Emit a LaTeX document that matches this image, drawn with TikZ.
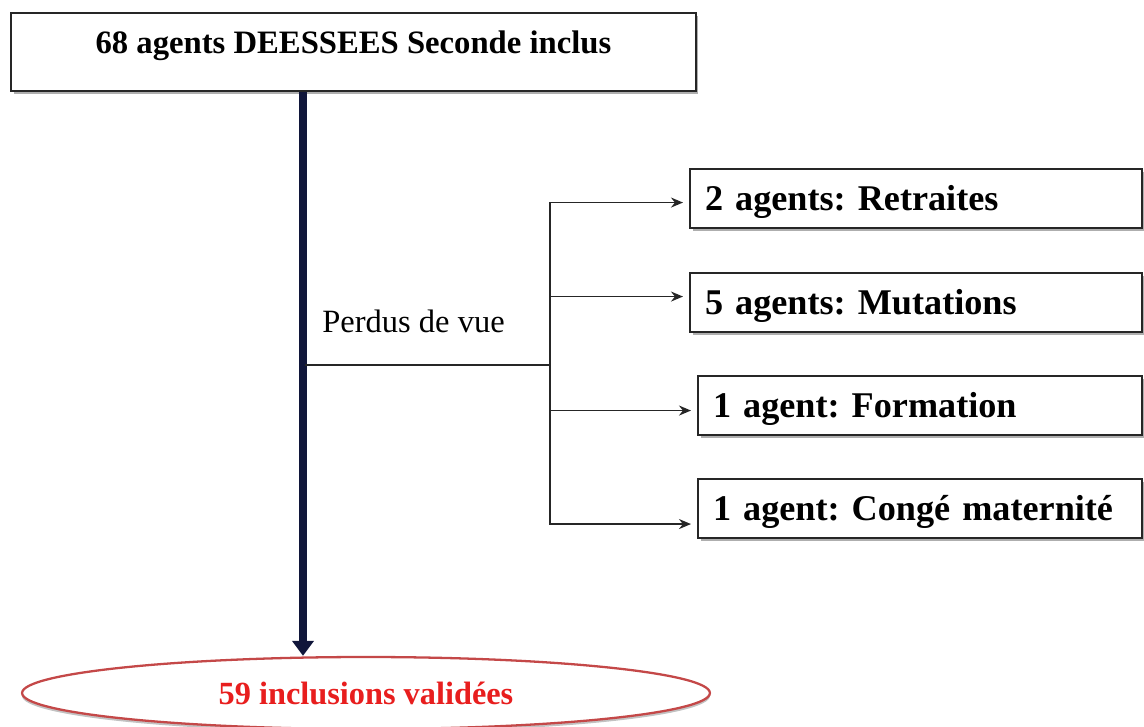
\documentclass[tikz,border=0pt]{standalone}
\usepackage{fontspec}
\setmainfont{Liberation Serif}
\usepackage{tikz}
\usetikzlibrary{arrows.meta,shapes.geometric,shadows}
\definecolor{navy}{RGB}{16,22,58}
\definecolor{ovalred}{RGB}{196,72,72}
\definecolor{textred}{RGB}{232,30,30}
\frenchspacing

\begin{document}
\begin{tikzpicture}[x=0.02cm, y=-0.02cm,
    box/.style={draw=black!85, line width=1.2pt, fill=white,
        drop shadow={shadow xshift=0.05cm, shadow yshift=-0.06cm, fill=black!45, opacity=0.7}},
    rbox/.style={box, anchor=north west, text width=#1, align=left, inner xsep=0.3cm, inner ysep=0pt,
        text height=0.83cm, text depth=0.35cm, font=\fontsize{20.6}{24}\selectfont\bfseries},
    branch/.style={-{Stealth[length=2.4mm, width=2mm]}, line width=0.9pt, black!85}]

        % Bounding box of the page
        \clip (0,0) rectangle (1144,727);

        % Top box
        \node[box, anchor=north west, minimum width=13.7cm, inner ysep=0pt,
              text height=0.8cm, text depth=0.76cm,
              font=\fontsize{18.6}{22}\selectfont\bfseries] (agents) at (10,12)
              {68 agents DEESSEES Seconde inclus};

        % Oval at the bottom
        \node[ellipse, draw=ovalred, line width=1.3pt, fill=white, minimum width=13.76cm,
              minimum height=1.44cm, text=textred,
              font=\fontsize{18.4}{22}\selectfont\bfseries,
              drop shadow={shadow xshift=0cm, shadow yshift=-0.06cm, fill=black!40, opacity=0.6}]
              (valid) at (366,693) {59 inclusions valid\'ees};

        % Thick arrow down
        \draw[navy, line width=4.6pt, -{Triangle[length=0.3cm, width=0.42cm]}]
              (agents.south -| 303,0) -- (valid.north -| 303,0);

        % Boxes on the right
        \node[rbox=8.44cm] (retraites) at (689,168) {2 agents: Retraites};
        \node[rbox=8.44cm] (mutations) at (689,272) {5 agents: Mutations};
        \node[rbox=8.28cm] (formation) at (697,375) {1 agent: Formation};
        \node[rbox=8.28cm] (conge) at (697,478) {1 agent: Cong\'e maternit\'e};

        % Label
        \node[anchor=base west, inner sep=0pt, font=\fontsize{18.5}{22}\selectfont] (perdus) at (322,332) {Perdus de vue};

        % Branches
        \coordinate (split) at (305,365);
        \coordinate (fork) at (550,365);
        \draw[line width=0.9pt, black!85] (split) -- (fork);
        \foreach \b/\dy in {retraites/-0.08, mutations/0.12, formation/-0.1, conge/-0.31}
            \draw[branch] (fork) |- ([xshift=-0.12cm, yshift=\dy cm]\b.west);

\end{tikzpicture}
\end{document}
